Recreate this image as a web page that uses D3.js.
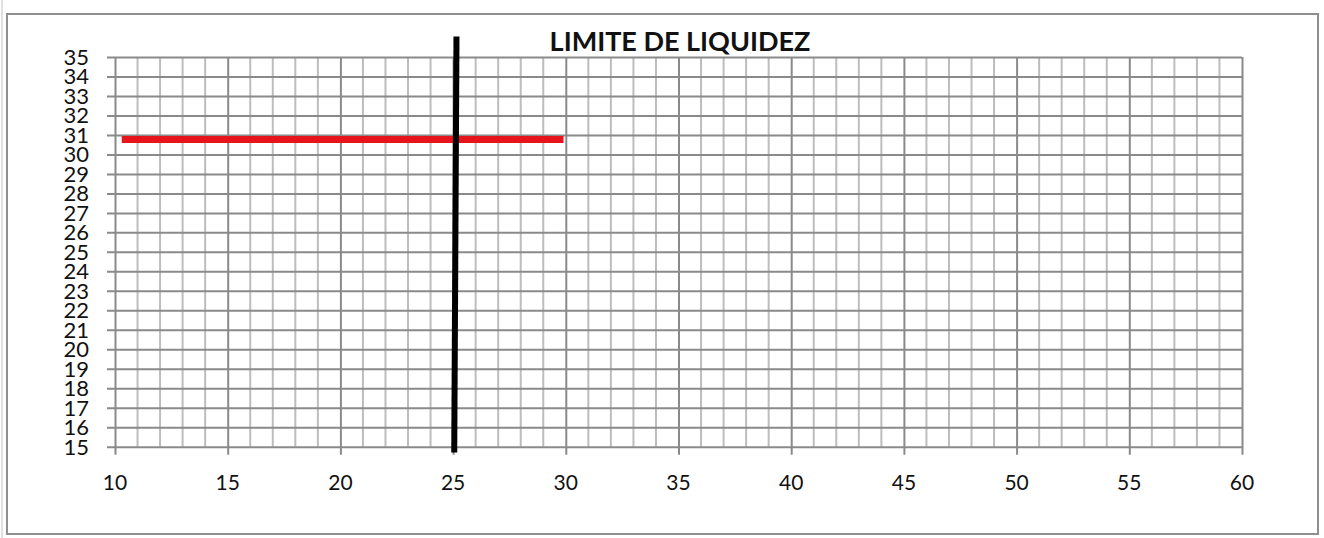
<!DOCTYPE html>
<html>
<head>
<meta charset="utf-8">
<script src="https://cdn.jsdelivr.net/npm/d3@7"></script>
<style>
  html, body { margin: 0; padding: 0; background: #fff; }
  svg { display: block; }
  text { font-family: Lato, "Open Sans", sans-serif; fill: #111; }
</style>
</head>
<body>
<svg id="chart" width="1324" height="538"></svg>
<script>
// Chart data
const chartTitle = "LIMITE DE LIQUIDEZ";
const xDomain = [10, 60];
const yDomain = [15, 35];
const xTickValues = [10, 15, 20, 25, 30, 35, 40, 45, 50, 55, 60];
const yTickValues = [15, 16, 17, 18, 19, 20, 21, 22, 23, 24, 25, 26, 27, 28, 29, 30, 31, 32, 33, 34, 35];
// horizontal (red) reference line
const redX = [10.3, 29.9];
const redY = [30.77, 30.77];
// vertical (black) reference line
const blackX = [25.05, 25.15];
const blackY = [14.7, 36.05];

const svg = d3.select("#chart");
const W = 1324, H = 538;
const plot = { left: 115, right: 1242, top: 57, bottom: 446.7 };

// outer frame
svg.append("line").attr("x1", 2).attr("x2", 2).attr("y1", 0).attr("y2", H)
  .attr("stroke", "#d6d6d6").attr("stroke-width", 1.5);
svg.append("rect").attr("x", 7).attr("y", 14).attr("width", 1311).attr("height", 520)
  .attr("fill", "#fff").attr("stroke", "#8f8f8f").attr("stroke-width", 2);

const x = d3.scaleLinear().domain(xDomain).range([plot.left, plot.right]);
const y = d3.scaleLinear().domain(yDomain).range([plot.bottom, plot.top]);

// minor vertical grid (every unit)
const minorX = d3.range(xDomain[0], xDomain[1] + 1).filter(v => v % 5 !== 0);
svg.append("g").selectAll("line").data(minorX).join("line")
  .attr("x1", d => x(d)).attr("x2", d => x(d))
  .attr("y1", plot.top).attr("y2", plot.bottom)
  .attr("stroke", "#bdbdbd").attr("stroke-width", 2);

// horizontal grid + left axis ticks
const yAxis = d3.axisLeft(y).tickValues(yTickValues).tickSizeInner(-(plot.right - plot.left)).tickSizeOuter(0).tickPadding(0).tickFormat("");
const gy = svg.append("g").attr("transform", `translate(${plot.left},0)`).call(yAxis);
gy.select(".domain").remove();
gy.selectAll(".tick line").attr("x1", -8).attr("stroke", "#8a8a8a").attr("stroke-width", 2);

// major vertical grid + bottom axis ticks
const xAxis = d3.axisBottom(x).tickValues(xTickValues).tickSizeInner(-(plot.bottom - plot.top)).tickSizeOuter(0).tickFormat("");
const gx = svg.append("g").attr("transform", `translate(0,${plot.bottom})`).call(xAxis);
gx.select(".domain").remove();
gx.selectAll(".tick line").attr("y1", 8).attr("stroke", "#8a8a8a").attr("stroke-width", 2);

// tick labels
svg.append("g").selectAll("text").data(yTickValues).join("text")
  .attr("x", 89).attr("y", d => y(d)).attr("dy", "0.36em")
  .attr("text-anchor", "end").attr("font-size", 22)
  .text(d => d);
svg.append("g").selectAll("text").data(xTickValues).join("text")
  .attr("x", d => x(d)).attr("y", 490)
  .attr("text-anchor", "middle").attr("font-size", 21)
  .text(d => d);

// reference lines
const line = d3.line().x(d => x(d[0])).y(d => y(d[1]));
svg.append("path").datum(d3.zip(redX, redY)).attr("d", line)
  .attr("fill", "none").attr("stroke", "#e8141b").attr("stroke-width", 7);
svg.append("path").datum(d3.zip(blackX, blackY)).attr("d", line)
  .attr("fill", "none").attr("stroke", "#000").attr("stroke-width", 6);

// title
svg.append("text").attr("x", 680).attr("y", 51).attr("text-anchor", "middle")
  .attr("font-size", 27).attr("font-weight", 700).text(chartTitle);
</script>
</body>
</html>
